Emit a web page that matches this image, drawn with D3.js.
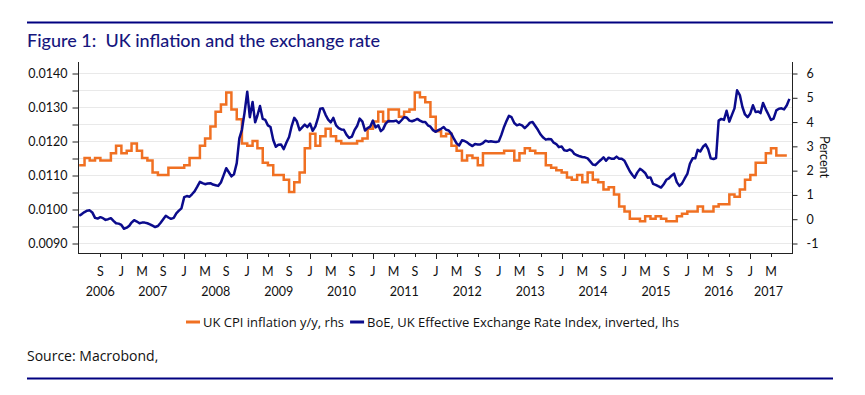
<!DOCTYPE html>
<html>
<head>
<meta charset="utf-8">
<script src="https://cdn.jsdelivr.net/npm/d3@7/dist/d3.min.js"></script>
<style>
  body { margin: 0; background: #fff; }
  svg { font-family: Lato, "Noto Sans", sans-serif; }
</style>
</head>
<body>
<svg id="chart" width="865" height="395"></svg>
<script>
// UK CPI inflation y/y, % (monthly, right axis). 2006 starts in May.
var cpi2006 = [2.2, 2.5, 2.4, 2.5, 2.4, 2.4, 2.7, 3.0];
var cpi2007 = [2.7, 2.8, 3.1, 2.8, 2.5, 2.4, 1.9, 1.8, 1.8, 2.1, 2.1, 2.1];
var cpi2008 = [2.2, 2.5, 2.5, 3.0, 3.3, 3.8, 4.4, 4.7, 5.2, 4.5, 4.1, 3.1];
var cpi2009 = [3.0, 3.2, 2.9, 2.3, 2.2, 1.8, 1.8, 1.6, 1.1, 1.5, 1.9, 2.9];
var cpi2010 = [3.5, 3.0, 3.4, 3.7, 3.4, 3.2, 3.1, 3.1, 3.1, 3.2, 3.3, 3.7];
var cpi2011 = [4.0, 4.4, 4.0, 4.5, 4.5, 4.2, 4.4, 4.5, 5.2, 5.0, 4.8, 4.2];
var cpi2012 = [3.6, 3.4, 3.5, 3.0, 2.8, 2.4, 2.6, 2.5, 2.2, 2.7, 2.7, 2.7];
var cpi2013 = [2.7, 2.8, 2.8, 2.4, 2.7, 2.9, 2.8, 2.7, 2.7, 2.2, 2.1, 2.0];
var cpi2014 = [1.9, 1.7, 1.6, 1.8, 1.5, 1.9, 1.6, 1.5, 1.2, 1.3, 1.0, 0.5];
var cpi2015 = [0.3, 0.0, 0.0, -0.1, 0.1, 0.0, 0.1, 0.0, -0.1, -0.1, 0.1, 0.2];
var cpi2016 = [0.3, 0.3, 0.5, 0.3, 0.3, 0.5, 0.6, 0.6, 1.0, 0.9, 1.2, 1.6];
var cpi2017 = [1.8, 2.3, 2.3, 2.7, 2.9, 2.6, 2.6];

// BoE effective exchange rate index, inverted (left axis).
// Two readings per month (1st and 16th), 2006 starts in May.
var eri2006 = [0.00980, 0.00985, 0.00991, 0.00995, 0.00996, 0.00990, 0.00974, 0.00972,
               0.00976, 0.00973, 0.00968, 0.00970, 0.00973, 0.00965, 0.00958, 0.00957];
var eri2007 = [0.00953, 0.00942, 0.00945, 0.00951, 0.00960, 0.00967, 0.00963, 0.00958,
               0.00960, 0.00960, 0.00958, 0.00955, 0.00951, 0.00947, 0.00950, 0.00959,
               0.00970, 0.00980, 0.00975, 0.00971, 0.00974, 0.00987, 0.00995, 0.01002];
var eri2008 = [0.01035, 0.01038, 0.01036, 0.01044, 0.01052, 0.01065, 0.01080, 0.01076,
               0.01073, 0.01075, 0.01076, 0.01072, 0.01070, 0.01068, 0.01078, 0.01098,
               0.01120, 0.01108, 0.01096, 0.01102, 0.01135, 0.01208, 0.01233, 0.01282];
var eri2009 = [0.01345, 0.01270, 0.01315, 0.01255, 0.01275, 0.01303, 0.01265, 0.01262,
               0.01246, 0.01241, 0.01203, 0.01183, 0.01189, 0.01190, 0.01176, 0.01195,
               0.01212, 0.01244, 0.01268, 0.01258, 0.01232, 0.01240, 0.01248, 0.01241];
var eri2010 = [0.01251, 0.01230, 0.01243, 0.01268, 0.01295, 0.01296, 0.01277, 0.01263,
               0.01255, 0.01268, 0.01246, 0.01238, 0.01234, 0.01233, 0.01218, 0.01209,
               0.01213, 0.01232, 0.01244, 0.01266, 0.01257, 0.01231, 0.01238, 0.01242];
var eri2011 = [0.01260, 0.01240, 0.01246, 0.01229, 0.01235, 0.01251, 0.01259, 0.01258,
               0.01258, 0.01260, 0.01253, 0.01261, 0.01270, 0.01269, 0.01260, 0.01258,
               0.01261, 0.01265, 0.01260, 0.01256, 0.01256, 0.01246, 0.01242, 0.01232];
var eri2012 = [0.01227, 0.01232, 0.01236, 0.01241, 0.01233, 0.01231, 0.01221, 0.01206,
               0.01193, 0.01187, 0.01202, 0.01200, 0.01196, 0.01190, 0.01185, 0.01191,
               0.01190, 0.01190, 0.01194, 0.01201, 0.01198, 0.01199, 0.01198, 0.01197];
var eri2013 = [0.01199, 0.01218, 0.01242, 0.01260, 0.01274, 0.01270, 0.01253, 0.01246,
               0.01249, 0.01246, 0.01238, 0.01245, 0.01254, 0.01256, 0.01244, 0.01233,
               0.01219, 0.01210, 0.01204, 0.01206, 0.01205, 0.01195, 0.01191, 0.01182];
var eri2014 = [0.01184, 0.01173, 0.01171, 0.01175, 0.01172, 0.01162, 0.01158, 0.01155,
               0.01153, 0.01152, 0.01149, 0.01140, 0.01131, 0.01129, 0.01137, 0.01144,
               0.01152, 0.01142, 0.01151, 0.01148, 0.01148, 0.01154, 0.01148, 0.01148];
var eri2015 = [0.01142, 0.01127, 0.01111, 0.01100, 0.01092, 0.01107, 0.01118, 0.01113,
               0.01106, 0.01092, 0.01093, 0.01074, 0.01071, 0.01067, 0.01063, 0.01072,
               0.01086, 0.01090, 0.01098, 0.01104, 0.01079, 0.01068, 0.01075, 0.01089];
var eri2016 = [0.01103, 0.01133, 0.01149, 0.01149, 0.01174, 0.01169, 0.01183, 0.01190,
               0.01176, 0.01149, 0.01147, 0.01150, 0.01260, 0.01265, 0.01262, 0.01289,
               0.01257, 0.01277, 0.01296, 0.01349, 0.01335, 0.01300, 0.01278, 0.01270];
var eri2017 = [0.01281, 0.01305, 0.01285, 0.01287, 0.01282, 0.01312, 0.01293, 0.01278,
               0.01262, 0.01266, 0.01290, 0.01295, 0.01296, 0.01293, 0.01305, 0.01324];

var leftTicks = [0.0090, 0.0095, 0.0100, 0.0105, 0.0110, 0.0115, 0.0120, 0.0125, 0.0130, 0.0135, 0.0140];
var rightTicks = [-1, 0, 1, 2, 3, 4, 5, 6];
var monthLetters = { 0: "J", 4: "M", 8: "S" };
var years = [2006, 2007, 2008, 2009, 2010, 2011, 2012, 2013, 2014, 2015, 2016, 2017];

var TITLE = "Figure 1:  UK inflation and the exchange rate";
var CPI_LABEL = "UK CPI inflation y/y, rhs";
var ERI_LABEL = "BoE, UK Effective Exchange Rate Index, inverted, lhs";
var SOURCE = "Source: Macrobond,";

var NAVY = "#0b0b8c";
var ORANGE = "#f07022";
var TICK_FONT = "Lato, 'Noto Sans', sans-serif";
var LABEL_FONT = "'Open Sans', 'Noto Sans', sans-serif";

// plot frame (not named top/left: window.top is taken)
var plotL = 78, plotR = 792, plotT = 62, plotB = 253;

function monthly(year, firstMonth, values){
  return values.map(function(v, i){
    return { date: new Date(year, firstMonth + i, 1), value: v };
  });
}
function halfMonthly(year, firstMonth, values){
  return values.map(function(v, i){
    return { date: new Date(year, firstMonth + Math.floor(i / 2), i % 2 ? 16 : 1), value: v };
  });
}

var cpi = [].concat(
  monthly(2006, 4, cpi2006), monthly(2007, 0, cpi2007), monthly(2008, 0, cpi2008),
  monthly(2009, 0, cpi2009), monthly(2010, 0, cpi2010), monthly(2011, 0, cpi2011),
  monthly(2012, 0, cpi2012), monthly(2013, 0, cpi2013), monthly(2014, 0, cpi2014),
  monthly(2015, 0, cpi2015), monthly(2016, 0, cpi2016), monthly(2017, 0, cpi2017));
// step line: hold last month until the month ends
var lastCpi = cpi[cpi.length - 1];
cpi.push({ date: d3.timeMonth.offset(lastCpi.date, 1), value: lastCpi.value });

var eri = [].concat(
  halfMonthly(2006, 4, eri2006), halfMonthly(2007, 0, eri2007), halfMonthly(2008, 0, eri2008),
  halfMonthly(2009, 0, eri2009), halfMonthly(2010, 0, eri2010), halfMonthly(2011, 0, eri2011),
  halfMonthly(2012, 0, eri2012), halfMonthly(2013, 0, eri2013), halfMonthly(2014, 0, eri2014),
  halfMonthly(2015, 0, eri2015), halfMonthly(2016, 0, eri2016), halfMonthly(2017, 0, eri2017));

var svg = d3.select("#chart");
svg.append("rect").attr("width", 865).attr("height", 395).attr("fill", "#fff");

var x = d3.scaleTime()
  .domain([new Date(2006, 3, 24), new Date(2017, 7, 31)])
  .range([plotL, plotR]);
var yL = d3.scaleLinear().domain([0.0090, 0.0140]).range([243, 73]);
var yR = d3.scaleLinear().domain([-1, 6]).range([243, 73]);

// header / footer rules and title
svg.append("line").attr("x1", 27).attr("x2", 833).attr("y1", 22.5).attr("y2", 22.5)
  .attr("stroke", "#000080").attr("stroke-width", 2);
svg.append("line").attr("x1", 27).attr("x2", 833).attr("y1", 378.5).attr("y2", 378.5)
  .attr("stroke", "#000080").attr("stroke-width", 2);
svg.append("text").attr("x", 27).attr("y", 46.5)
  .style("font-family", TICK_FONT)
  .attr("fill", "#16167e").attr("font-size", 18).attr("font-weight", 500)
  .attr("xml:space", "preserve").text(TITLE);

// gridlines
svg.append("g").selectAll("line").data(leftTicks).join("line")
  .attr("x1", plotL).attr("x2", plotR)
  .attr("y1", function(d){ return Math.round(yL(d)) + 0.5; })
  .attr("y2", function(d){ return Math.round(yL(d)) + 0.5; })
  .attr("stroke", "#e9e9e9").attr("stroke-width", 1);

// left axis
var gL = svg.append("g").attr("transform", "translate(" + (plotL + 0.5) + ",0.5)")
  .call(d3.axisLeft(yL).tickValues(leftTicks).tickSize(6).tickPadding(5)
    .tickFormat(function(d){ return Math.round(d * 10000) % 10 === 0 ? d3.format(".4f")(d) : ""; }));
gL.select(".domain").remove();
gL.selectAll(".tick line").attr("stroke", "#222");
gL.selectAll("text").attr("fill", "#111")
  .style("font-family", TICK_FONT).style("font-size", "12.5px");

// right axis
var gR = svg.append("g").attr("transform", "translate(" + (plotR + 0.5) + ",0.5)")
  .call(d3.axisRight(yR).tickValues(rightTicks).tickSize(5).tickPadding(9)
    .tickFormat(function(d){ return String(d); }));
gR.select(".domain").remove();
gR.selectAll(".tick line").attr("stroke", "#222");
gR.selectAll("text").attr("fill", "#111")
  .style("font-family", TICK_FONT).style("font-size", "12.5px");

svg.append("text")
  .attr("transform", "translate(820,157) rotate(90)")
  .attr("text-anchor", "middle").attr("font-size", 12.5).attr("fill", "#111")
  .text("Percent");

// frame lines
svg.append("line").attr("x1", plotL + 0.5).attr("x2", plotL + 0.5).attr("y1", plotT).attr("y2", plotB + 0.5)
  .attr("stroke", "#222");
svg.append("line").attr("x1", plotR + 0.5).attr("x2", plotR + 0.5).attr("y1", plotT).attr("y2", plotB + 0.5)
  .attr("stroke", "#222");
svg.append("line").attr("x1", plotL).attr("x2", plotR + 1).attr("y1", plotB + 0.5).attr("y2", plotB + 0.5)
  .attr("stroke", "#222");

// bottom axis: ticks every 4 months, letters J M S, years under them
var monthTicks = x.ticks(d3.timeMonth.every(4)).filter(function(d){
  return x(d) > plotL + 4 && x(d) < plotR - 2;
});
var gX = svg.append("g");
gX.selectAll("line").data(monthTicks).join("line")
  .attr("x1", function(d){ return Math.round(x(d)) + 0.5; })
  .attr("x2", function(d){ return Math.round(x(d)) + 0.5; })
  .attr("y1", plotB)
  .attr("y2", function(d){ return d.getMonth() === 0 ? plotB + 6 : plotB + 4; })
  .attr("stroke", "#222");
gX.selectAll("text.m").data(monthTicks).join("text").attr("class", "m")
  .attr("x", function(d){ return x(d); }).attr("y", 276)
  .attr("text-anchor", "middle").attr("font-size", 12.5).attr("fill", "#111")
  .text(function(d){ return monthLetters[d.getMonth()]; });

var dataStart = cpi[0].date, dataEnd = cpi[cpi.length - 1].date;
gX.selectAll("text.y").data(years).join("text").attr("class", "y")
  .attr("x", function(yr){
    var a = d3.max([new Date(yr, 0, 1), dataStart]);
    var b = d3.min([new Date(yr + 1, 0, 1), dataEnd]);
    return (x(a) + x(b)) / 2;
  })
  .attr("y", 296)
  .attr("text-anchor", "middle").attr("font-size", 12.5).attr("fill", "#111")
  .text(function(yr){ return yr; });

// series
var cpiLine = d3.line().curve(d3.curveStepAfter)
  .x(function(d){ return x(d.date); })
  .y(function(d){ return yR(d.value); });
var eriLine = d3.line()
  .x(function(d){ return x(d.date); })
  .y(function(d){ return yL(d.value); });

svg.append("path").datum(cpi).attr("d", cpiLine)
  .attr("fill", "none").attr("stroke", ORANGE).attr("stroke-width", 2.5)
  .attr("stroke-linejoin", "miter");
svg.append("path").datum(eri).attr("d", eriLine)
  .attr("fill", "none").attr("stroke", NAVY).attr("stroke-width", 2.5)
  .attr("stroke-linejoin", "round");

// legend
var legend = svg.append("g");
var lx = 186, ly = 322;
[{ label: CPI_LABEL, color: ORANGE }, { label: ERI_LABEL, color: NAVY }].forEach(function(item){
  legend.append("line").attr("x1", lx).attr("x2", lx + 14).attr("y1", ly).attr("y2", ly)
    .attr("stroke", item.color).attr("stroke-width", 3);
  var t = legend.append("text").attr("x", lx + 17).attr("y", ly + 4.5)
    .style("font-family", LABEL_FONT).style("font-size", "13px")
    .attr("fill", "#111").text(item.label);
  lx += 17 + t.node().getComputedTextLength() + 6;
});

svg.append("text").attr("x", 27).attr("y", 361)
  .style("font-family", LABEL_FONT).style("font-size", "14px")
  .attr("fill", "#111").text(SOURCE);
</script>
</body>
</html>
